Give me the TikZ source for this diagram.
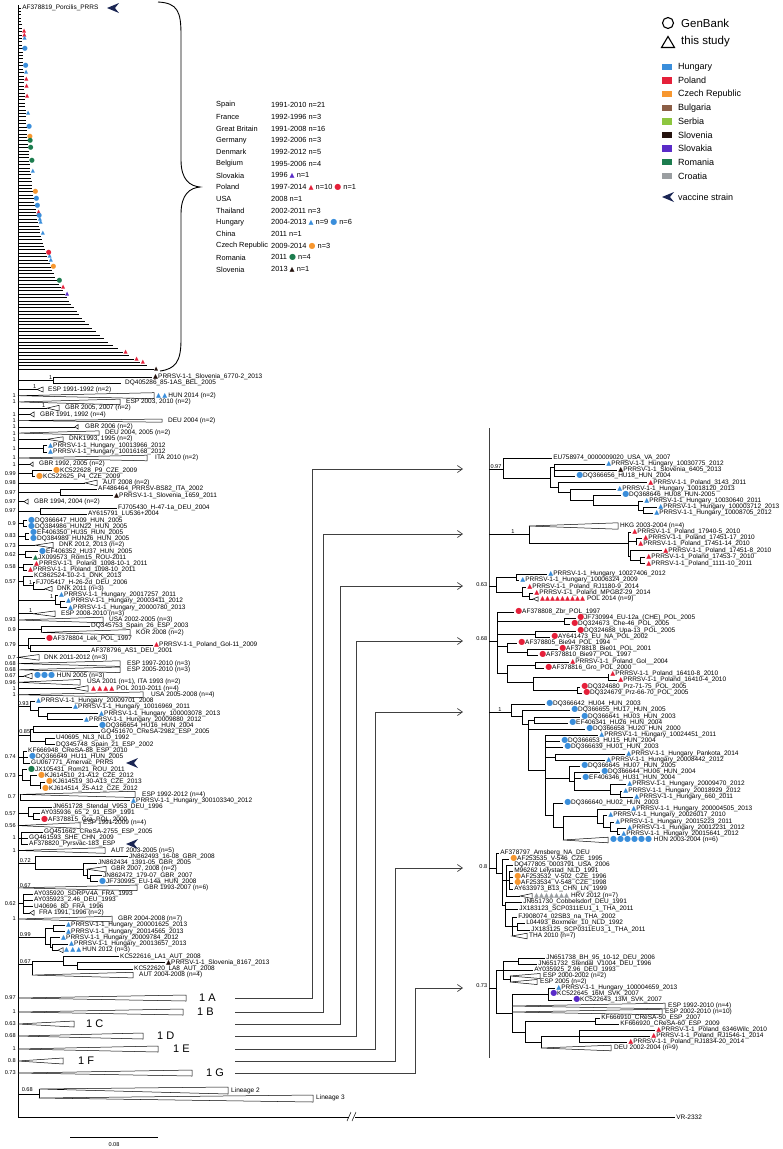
\documentclass[tikz,border=0pt]{standalone}
\usepackage{fontspec}
\setmainfont{Liberation Sans}
\newfontfamily\symfont{DejaVu Sans}
\usetikzlibrary{arrows.meta}

\definecolor{hun}{HTML}{3A8EDB}
\definecolor{pol}{HTML}{E5203A}
\definecolor{cze}{HTML}{F7972F}
\definecolor{bul}{HTML}{8B5E46}
\definecolor{srb}{HTML}{8DC63F}
\definecolor{slo}{HTML}{24120E}
\definecolor{svk}{HTML}{5A2BC8}
\definecolor{rou}{HTML}{1C7C4E}
\definecolor{hrv}{HTML}{9A9EA1}
\definecolor{vac}{HTML}{1B2654}

% markers, collapsed clades, bootstrap left of the root
\newcommand{\mtri}[1]{{\symfont\fontsize{6.5}{7}\selectfont\textcolor{#1}{▲}}}
\newcommand{\mdot}[1]{{\symfont\fontsize{8}{8}\selectfont\textcolor{#1}{●}}}
\newcommand{\stri}[1]{{\symfont\fontsize{5.4}{6}\selectfont\textcolor{#1}{▲}}}
\newcommand{\sdot}[1]{{\symfont\fontsize{6.6}{7}\selectfont\textcolor{#1}{●}}}
\newcommand{\clps}[4]{\draw[clade] (#1,#3) -- (#2,{#3-#4}) -- (#2,{#3+#4}) -- cycle;}
\newcommand{\bsl}[3]{\node[bs,anchor=east] (#1) at (16.5,#2) {#3};}

\tikzset{
  br/.style={line width=0.5pt},
  clade/.style={line width=0.5pt, fill=white},
  lf/.style={anchor=west, inner sep=1pt, font=\fontsize{6.5}{7}\selectfont},
  bs/.style={inner sep=0.6pt, font=\fontsize{5.6}{6}\selectfont},
  mk/.style={inner sep=0pt},
  big/.style={anchor=west, inner sep=0pt, font=\fontsize{11}{12}\selectfont},
  lg/.style={anchor=west, inner sep=0pt, font=\fontsize{7.4}{8}\selectfont},
  lg2/.style={anchor=west, inner sep=0pt, font=\fontsize{11.5}{12}\selectfont},
  lg3/.style={anchor=west, inner sep=0pt, font=\fontsize{9}{10}\selectfont},
  key/.style={rectangle, inner sep=0pt, minimum width=9.5pt, minimum height=6.5pt},
  conn/.style={line width=0.7pt, draw=black!75, -{Straight Barb[length=5pt,width=7pt]}},
  vacc/.pic={\fill[vac,x=1pt,y=1pt] (-6,0) -- (6,5) -- (2,0) -- (6,-5) -- cycle;}
}

\begin{document}
\catcode`\_=12
\begin{tikzpicture}[x=1pt,y=-1pt]
\useasboundingbox (0,0) rectangle (783,1149);

% root line and outgroup
\draw[br] (18,5) -- (18,1117) -- (675,1117) node[lf] (vr) {VR-2332};
\fill[white] (349,1114) rectangle (355,1120);
\draw[br] (347,1121) -- (351,1112) (352,1121) -- (356,1112);

% scale bar
\draw[br] (70,1137) -- (158,1137);
\node[bs] (sc) at (114,1145) {0.08};

% top vaccine strain
\draw[br] (18,8) -- (21,8) node[lf] (top) {AF378819_Porcilis_PRRS};
\pic at (113,8) {vacc};

% unresolved comb
\foreach \i in {0,...,105}
  \draw[br] (18,{11+3.41*\i}) -- ({21+12*\i/105+0.3*(exp(6*\i/105)-1)},{11+3.41*\i});
\foreach \i/\cl in {6/pol,7/pol,8/hun,18/hun,20/pol,22/pol,25/pol,30/hun,47/hun,59/pol,61/hun,62/hun,65/hun,72/hun,73/hun,81/pol,83/svk,100/pol,102/pol,103/pol,105/slo}
  \node[mk] (ct\i) at ({23.5+12*\i/105+0.3*(exp(6*\i/105)-1)},{11+3.41*\i}) {\stri{\cl}};
\foreach \i/\cl in {11/hun,16/hun,34/hun,37/cze,38/rou,40/rou,44/rou,53/cze,55/hun,57/hun,60/hun,71/pol,75/cze,79/rou}
  \node[mk] (cd\i) at ({23.5+12*\i/105+0.3*(exp(6*\i/105)-1)},{11+3.41*\i}) {\sdot{\cl}};

% brace
\draw[line width=0.9pt] (158,2) .. controls (178,3) and (181,12) .. (181,35) -- (181,160)
  .. controls (181,180) and (190,186) .. (200,187) .. controls (190,188) and (181,194) .. (181,214)
  -- (181,340) .. controls (181,362) and (175,369) .. (160,371);

% summary of the comb
\foreach \j/\cn/\yr in {0/Spain/1991-2010 n=21, 1/France/1992-1996 n=3, 2/Great Britain/1991-2008 n=16,
  3/Germany/1992-2006 n=3, 4/Denmark/1992-2012 n=5, 5/Belgium/1995-2006 n=4,
  6/Slovakia/1996 \mtri{svk} n=1, 7/Poland/1997-2014 \mtri{pol} n=10 \mdot{pol} n=1,
  8/USA/2008 n=1, 9/Thailand/2002-2011 n=3, 10/Hungary/2004-2013 \mtri{hun} n=9 \mdot{hun} n=6,
  11/China/2011 n=1, 12/Czech Republic/2009-2014 \mdot{cze} n=3, 13/Romania/2011 \mdot{rou} n=4,
  14/Slovenia/2013 \mtri{slo} n=1}
{
  \node[lg] (cn\j) at (216,{105+11.75*\j}) {\cn};
  \node[lg] (yr\j) at (271,{105+11.75*\j}) {\yr};
}

% legend
\draw[line width=1.1pt] (668,23) circle (5.5);
\node[lg2] (gb) at (681,23) {GenBank};
\draw[line width=1.1pt] (661.5,47.5) -- (674.5,47.5) -- (668,36.5) -- cycle;
\node[lg2] (ts) at (681,42) {this study};
\foreach \j/\cl/\t in {0/hun/Hungary,1/pol/Poland,2/cze/Czech Republic,3/bul/Bulgaria,4/srb/Serbia,5/slo/Slovenia,6/svk/Slovakia,7/rou/Romania,8/hrv/Croatia}
{
  \node[key, fill=\cl] (key\j) at (667,{67+13.6*\j}) {};
  \node[lg3] (kl\j) at (678,{67+13.6*\j}) {\t};
}
\pic at (668,197) {vacc};
\node[lg3] (vs) at (678,197) {vaccine strain};

% resolved part of the tree, one unit per row
\begin{scope}[shift={(0,370.77)}, y=-6.23pt]
% 1-2
\draw[br] (18,1.5) -- (53,1.5) (152,1) -| (53,2) -- (121,2);
\node[bs,anchor=south east] (k1) at (53,1.5) {1};
\node[lf] (r1) at (152,1) {\mtri{slo}PRRSV-1-1_Slovenia_6770-2_2013};
\node[lf] (r2) at (124,2) {DQ405286_85-1AS_BEL_2005};
% 3
\draw[br] (18,3) -- (37,3); \clps{37}{43}{3}{0.4}
\node[bs,anchor=south east] (k3) at (37,3) {1};
\node[lf] (r3) at (47,3) {ESP 1991-1992 (n=2)};
% 4
\clps{18}{154}{4}{0.48} \bsl{k4}{4}{1}
\node[lf] (r4) at (155,4) {\mtri{hun}\,\mtri{hun}\,HUN 2014 (n=2)};
% 5
\clps{18}{120}{5}{0.45} \bsl{k5}{5}{1}
\node[lf] (r5) at (125,5) {ESP 2003, 2010 (n=2)};
% 6
\draw[br] (18,6) -- (47,6); \clps{47}{59}{6}{0.45}
\node[bs,anchor=south east] (k6) at (46,6) {1};
\node[lf] (r6) at (64,6) {GBR 2005, 2007 (n=2)};
% 7
\draw[br] (18,7) -- (30,7); \clps{30}{34}{7}{0.4} \bsl{k7}{7}{1}
\node[lf] (r7) at (39,7) {GBR 1991, 1992 (n=4)};
% 8
\clps{18}{162}{8}{0.25} \bsl{k8}{8}{1}
\node[lf] (r8) at (167,8) {DEU 2004 (n=2)};
% 9
\draw[br] (18,9) -- (75,9); \clps{75}{78}{9}{0.35} \bsl{k9}{9}{1}
\node[lf] (r9) at (84,9) {GBR 2006 (n=2)};
% 10
\clps{18}{99}{10}{0.35} \bsl{k10}{10}{1}
\node[lf] (r10) at (104,10) {DEU 2004, 2005 (n=2)};
% 11
\draw[br] (18,11) -- (47,11); \clps{47}{63}{11}{0.4} \bsl{k11}{11}{1}
\node[lf] (r11) at (68,11) {DNK1993, 1995 (n=2)};
% 12-13
\draw[br] (18,12.5) -- (43,12.5) (47,12) -| (43,13) -- (47,13); \bsl{k12}{12.5}{1}
\node[lf] (r12) at (47,12) {\mtri{hun}PRRSV-1-1_Hungary_10013966_2012};
\node[lf] (r13) at (47,13) {\mtri{hun}PRRSV-1-1_Hungary_10016168_2012};
% 14
\clps{18}{147}{14}{0.45} \bsl{k14}{14}{1}
\node[lf] (r14) at (154,14) {ITA 2010 (n=2)};
% 15
\draw[br] (18,15) -- (30,15); \clps{30}{33}{15}{0.35} \bsl{k15}{15}{1}
\node[lf] (r15) at (38,15) {GBR 1992, 2005 (n=2)};
% 16-17
\draw[br] (18,16.5) -- (32,16.5) (52,16) -| (32,17) -- (35,17); \bsl{k16}{16.5}{0.99}
\node[lf] (r16) at (52,16) {\mdot{cze}KC522628_P9_CZE_2009};
\node[lf] (r17) at (35,17) {\mdot{cze}KC522625_P4_CZE_2009};
% 18
\draw[br] (18,18) -- (85,18); \clps{85}{97}{18}{0.45} \bsl{k18}{18}{0.98}
\node[lf] (r18) at (102,18) {AUT 2008 (n=2)};
% 19-20
\draw[br] (18,19.5) -- (60,19.5) (97,19) -| (60,20) -- (113,20); \bsl{k19}{19.5}{0.97}
\node[lf] (r19) at (97,19) {AF486464_PRRSV-BS82_ITA_2002};
\node[lf] (r20) at (113,20) {\mtri{slo}PRRSV-1-1_Slovenia_1659_2011};
% 21
\draw[br] (18,21) -- (24,21); \clps{24}{28}{21}{0.4} \bsl{k21}{21}{0.97}
\node[lf] (r21) at (33,21) {GBR 1994, 2004 (n=2)};
% 22-23
\draw[br] (18,22.5) -- (40,22.5) (117,22) -| (40,23) -- (87,23); \bsl{k22}{22.5}{0.97}
\node[lf] (r22) at (117,22) {FJ705430_H-47-1a_DEU_2004};
\node[lf] (r23) at (87,23) {AY615791_LU536+2004};
% 24-25
\draw[br] (18,24.5) -- (23,24.5) (27,24) -| (23,25) -- (27,25); \bsl{k24}{24.5}{0.9}
\node[lf] (r24) at (27,24) {\mdot{hun}DQ366647_HU09_HUN_2005};
\node[lf] (r25) at (27,25) {\mdot{hun}DQ384986_HUN22_HUN_2005};
% 26-27
\draw[br] (18,26.5) -- (25,26.5) (29,26) -| (25,27) -- (29,27); \bsl{k26}{26.5}{0.83}
\node[lf] (r26) at (29,26) {\mdot{hun}EF406350_HU35_HUN_2005};
\node[lf] (r27) at (29,27) {\mdot{hun}DQ384989_HUN26_HUN_2005};
% 28
\draw[br] (18,28) -- (35,28); \clps{35}{53}{28}{0.45} \bsl{k28}{28}{0.73}
\node[lf] (r28) at (58,28) {DNK 2012, 2013 (n=2)};
% 29-30
\draw[br] (18,29.5) -- (25,29.5) (38,29) -| (25,30) -- (32,30); \bsl{k29}{29.5}{0.62}
\node[lf] (r29) at (38,29) {\mdot{hun}EF406352_HU37_HUN_2005};
\node[lf] (r30) at (32,30) {\mtri{rou}JX099573_Rom15_ROU-2011};
% 31-32
\draw[br] (18,31.5) -- (23,31.5) (33,31) -| (23,32) -- (27,32); \bsl{k31}{31.5}{0.58}
\node[lf] (r31) at (33,31) {\mtri{pol}PRRSV-1-1_Poland_1098-10-1_2011};
\node[lf] (r32) at (27,32) {\mtri{pol}PRRSV-1-1_Poland_1098-10_2011};
% 33-35
\draw[br] (18,33.8) -- (23,33.8) (33,33) -| (23,34.5) -- (33,34.5) (35,34) -| (33,35) -- (45,35);
\clps{45}{52}{35}{0.4} \bsl{k33}{33.8}{0.57}
\node[bs,anchor=south east] (k34) at (33,34.5) {1};
\node[lf] (r33) at (33,33) {KC862524-10-2-1_DNK_2013};
\node[lf] (r34) at (35,34) {FJ705417_H-26-2d_DEU_2006};
\node[lf] (r35) at (56,35) {DNK 2011 (n=3)};
% 36-38
\draw[br] (18,36.8) -- (55,36.8) (58,36) -| (55,37.5) -- (60,37.5) (65,37) -| (60,38) -- (67,38);
\node[bs,anchor=east] (k36) at (54,36.3) {1};
\node[lf] (r36) at (58,36) {\mtri{hun}PRRSV-1-1_Hungary_20017257_2011};
\node[lf] (r37) at (65,37) {\mtri{hun}PRRSV-1-1_Hungary_20003411_2012};
\node[lf] (r38) at (67,38) {\mtri{hun}PRRSV-1-1_Hungary_20000780_2013};
% 39
\draw[br] (18,39) -- (33,39); \clps{33}{55}{39}{0.45}
\node[bs,anchor=south east] (k39) at (33,39) {1};
\node[lf] (r39) at (60,39) {ESP 2008-2010 (n=3)};
% 40
\clps{18}{103}{40}{0.45} \bsl{k40}{40}{0.93}
\node[lf] (r40) at (108,40) {USA 2002-2005 (n=3)};
% 41-42
\draw[br] (18,41.5) -- (41,41.5) (90,41) -| (41,42); \clps{41}{130}{42}{0.45} \bsl{k41}{41.5}{0.9}
\node[lf] (r41) at (90,41) {DQ345753_Spain_26_ESP_2003};
\node[lf] (r42) at (135,42) {KOR 2008 (n=2)};
% 43-45
\draw[br] (18,44) -- (28,44) (45,43) -| (28,44.5) -- (30,44.5) (153,44) -| (30,45) -- (90,45); \bsl{k43}{44}{0.79}
\node[lf] (r43) at (45,43) {\mdot{pol}AF378804_Lek_POL_1997};
\node[lf] (r44) at (153,44) {\mtri{pol}PRRSV-1-1_Poland_Gol-11_2009};
\node[lf] (r45) at (90,45) {AF378796_AS1_DEU_2001};
% 46-48
\clps{18}{39}{46}{0.45} \bsl{k46}{46}{0.7}
\node[lf] (r46) at (43,46) {DNK 2011-2012 (n=3)};
\clps{18}{120}{47}{0.45} \bsl{k47}{47}{0.68}
\node[lf] (r47) at (126,47) {ESP 1997-2010 (n=3)};
\clps{18}{120}{48}{0.45} \bsl{k48}{48}{0.68}
\node[lf] (r48) at (126,48) {ESP 2005-2010 (n=3)};
% 49
\draw[br] (18,49) -- (24,49); \clps{24}{32}{49}{0.45} \bsl{k49}{49}{0.67}
\node[lf] (r49) at (33,49) {\mdot{hun}\mdot{hun}\mdot{hun} HUN 2005 (n=3)};
% 50
\clps{18}{80}{50}{0.45} \bsl{k50}{50}{0.96}
\node[lf] (r50) at (86,50) {USA 2001 (n=1), ITA 1993 (n=2)};
% 51
\draw[br] (18,51) -- (73,51); \clps{73}{88}{51}{0.45} \bsl{k51}{51}{1}
\node[lf] (r51) at (90,51) {\mtri{pol}\,\mtri{pol}\,\mtri{pol}\,\mtri{pol} POL 2010-2011 (n=4)};
% 52
\clps{18}{143}{52}{0.45} \bsl{k52}{52}{1}
\node[lf] (r52) at (150,52) {USA 2005-2008 (n=4)};
% 53-56
\draw[br] (18,53.8) -- (30,53.8) (35,53) -| (30,54.5) -- (38,54.5) (72,54) -| (38,55.5) -- (47,55.5) (98,55) -| (47,56) -- (83,56);
\node[bs,anchor=south west] (k53) at (17,53.8) {0.93};
\node[lf] (r53) at (35,53) {\mtri{hun}PRRSV-1-1_Hungary_20009701_2008};
\node[lf] (r54) at (72,54) {\mtri{hun}PRRSV-1-1_Hungary_10016969_2011};
\node[lf] (r55) at (98,55) {\mtri{hun}PRRSV-1-1_Hungary_100003078_2013};
\node[lf] (r56) at (83,56) {\mtri{hun}PRRSV-1-1_Hungary_20009880_2012};
% 57-60
\draw[br] (18,58.5) -- (30,58.5) (33,57.5) -| (30,59.5) -- (45,59.5) (98,57) -| (33,58) -- (100,58) (55,59) -| (45,60) -- (55,60);
\node[bs,anchor=south west] (k57) at (18.5,58.4) {0.85};
\node[lf] (r57) at (98,57) {\mdot{hun}DQ366654_HU16_HUN_2004};
\node[lf] (r58) at (100,58) {GQ451670_CReSA-2982_ESP_2005};
\node[lf] (r59) at (55,59) {U40695_NL3_NLD_1992};
\node[lf] (r60) at (55,60) {DQ345748_Spain_21_ESP_2002};
% 61-63
\draw[br] (18,62) -- (28,62) (27,61) -| (23,63) -- (30,63); \bsl{k61}{62}{0.74}
\node[lf] (r61) at (27,61) {KF666948_CReSA-88_ESP_2010};
\node[lf] (r62) at (28,62) {\mdot{hun}DQ366649_HU11_HUN_2005};
\node[lf] (r63) at (30,63) {GU067771_Amervac_PRRS};
% 64-67
\draw[br] (18,65) -- (22,65) (27,64) -| (22,65.8) -- (30,65.8) (37,65) -| (30,66.5) -- (40,66.5) (45,66) -| (40,67) -- (41,67);
\bsl{k64}{65}{0.73}
\node[lf] (r64) at (27,64) {\mdot{rou}JX105431_Rom21_ROU_2011};
\node[lf] (r65) at (37,65) {\mdot{cze}KJ614510_21-A12_CZE_2012};
\node[lf] (r66) at (45,66) {\mdot{cze}KJ614519_30-A13_CZE_2013};
\node[lf] (r67) at (41,67) {\mdot{cze}KJ614514_25-A12_CZE_2012};
% 68-69
\draw[br] (20,68) -- (20,69) -- (130,69); \clps{20}{135}{68}{0.5} \bsl{k68}{68.3}{0.7}
\node[lf] (r68) at (141,68) {ESP 1992-2012 (n=4)};
\node[lf] (r69) at (130,69) {\mtri{hun}PRRSV-1-1_Hungary_300103340_2012};
% 70-72
\draw[br] (18,71) -- (28,71) (52,70) -| (28,71.5) -- (33,71.5) (40,71) -| (33,72) -- (40,72); \bsl{k70}{71}{0.57}
\node[lf] (r70) at (52,70) {JN651728_Stendal_V953_DEU_1996};
\node[lf] (r71) at (40,71) {AY035936_65_2_91_ESP_1991};
\node[lf] (r72) at (40,72) {\mdot{pol}AF378815_Gra_POL_2000};
% 73
\clps{18}{80}{73}{0.45} \bsl{k73}{73}{0.56}
\node[lf] (r73) at (82,72.6) {ESP 1991-2009 (n=4)};
% 74-76
\draw[br] (18,75) -- (28,75) (43,74) -| (21,76) -- (28,76); \bsl{k74}{75}{1}
\node[lf] (r74) at (43,74) {GQ451662_CReSA-2755_ESP_2005};
\node[lf] (r75) at (28,75) {GQ461593_SHE_CHN_2009};
\node[lf] (r76) at (28,76) {AF378820_Pyrsvac-183_ESP};
% 77
\clps{18}{105}{77}{0.45} \bsl{k77}{77}{1}
\node[lf] (r77) at (110,77) {AUT 2003-2005 (n=5)};
% 78-82
\draw[br] (18,79) -- (35,79) (128,78) -| (35,80) -- (83,80) (97,79) -| (83,81) -- (87,81)
  (87,80) -- (87,81.5) -- (90,81.5) (102,81) -| (90,82) -- (98,82);
\clps{87}{106}{80}{0.45}
\node[bs,anchor=south west] (k78) at (19,79) {0.72};
\node[lf] (r78) at (128,78) {JN862493_16-08_GBR_2008};
\node[lf] (r79) at (97,79) {JN862434_1391-05_GBR_2005};
\node[lf] (r80) at (110,80) {GBR 2007, 2008 (n=2)};
\node[lf] (r81) at (102,81) {JN862472_179-07_GBR_2007};
\node[lf] (r82) at (98,82) {\mdot{hun}JF730995_EU-14a_HUN_2008};
% 83
\clps{18}{137}{83}{0.45}
\node[bs,anchor=south west] (k83) at (19,83) {0.67};
\node[lf] (r83) at (143,83) {GBR 1993-2007 (n=6)};
% 84-87
\draw[br] (18,85.5) -- (23,85.5) (33,84) -| (23,87) -- (30,87) (23,85) -- (33,85) (23,86) -- (33,86);
\clps{30}{34}{87}{0.4} \bsl{k84}{85.6}{0.62}
\node[lf] (r84) at (33,84) {AY035920_SDRPV4A_FRA_1993};
\node[lf] (r85) at (33,85) {AY035923_2.46_DEU_1993};
\node[lf] (r86) at (33,86) {U40696_8D_FRA_1996};
\node[lf] (r87) at (38,87) {FRA 1991, 1996 (n=2)};
% 88
\clps{18}{112}{88}{0.45} \bsl{k88}{88}{1}
\node[lf] (r88) at (117,88) {GBR 2004-2008 (n=7)};
% 89-93
\draw[br] (18,91) -- (45,91) (65,89) -| (53,90) -- (65,90) (53,89.5) -| (45,92) -- (50,92)
  (60,91) -| (50,92.5) -- (52,92.5) (68,92) -| (52,93) -- (58,93);
\clps{58}{63}{93}{0.4}
\node[bs,anchor=south west] (k89) at (19,91) {0.99};
\node[lf] (r89) at (65,89) {\mtri{hun}PRRSV-1-1_Hungary_200001625_2013};
\node[lf] (r90) at (65,90) {\mtri{hun}PRRSV-1-1_Hungary_20014565_2013};
\node[lf] (r91) at (60,91) {\mtri{hun}PRRSV-1-1_Hungary_20009784_2012};
\node[lf] (r92) at (68,92) {\mtri{hun}PRRSV-1-1_Hungary_20013657_2013};
\node[lf] (r93) at (63,93) {\mtri{hun}\,\mtri{hun}\,\mtri{hun}\,HUN 2012 (n=3)};
% 94-97
\draw[br] (18,95.3) -- (32,95.3) (63,94.8) -| (32,97) (119,94) -| (63,95.5) -- (77,95.5) (165,95) -| (77,96) -- (133,96);
\clps{32}{133}{97}{0.45}
\node[bs,anchor=south west] (k94) at (19,95.3) {0.67};
\node[lf] (r94) at (119,94) {KC522616_LA1_AUT_2008};
\node[lf] (r95) at (165,95) {\mtri{slo}PRRSV-1-1_Slovenia_8167_2013};
\node[lf] (r96) at (133,96) {KC522620_LA8_AUT_2008};
\node[lf] (r97) at (138,97) {AUT 2004-2008 (n=4)};
\end{scope}

% vaccine strains in the tree
\pic at (132,763) {vacc};
\pic at (132,844) {vacc};

% collapsed clusters 1A-1G
\clps{18}{186}{998}{3} \bsl{kA}{998}{0.97}
\node[big] (n1A) at (199,998) {1 A};
\clps{18}{183}{1012}{3} \bsl{kB}{1012}{1}
\node[big] (n1B) at (197,1012) {1 B};
\clps{18}{74}{1024}{3} \bsl{kC}{1024}{0.63}
\node[big] (n1C) at (86,1024) {1 C};
\clps{18}{143}{1036}{3} \bsl{kD}{1036}{0.68}
\node[big] (n1D) at (157,1036) {1 D};
\clps{18}{158}{1049}{3} \bsl{kE}{1049}{1}
\node[big] (n1E) at (173,1049) {1 E};
\clps{18}{63}{1061}{3} \bsl{kF}{1061}{0.8}
\node[big] (n1F) at (78,1061) {1 F};
\clps{18}{192}{1073}{3} \bsl{kG}{1073}{0.73}
\node[big] (n1G) at (206,1073) {1 G};

% lineages 2 and 3
\draw[br] (18,1094) -- (39,1094) (39,1089) -- (39,1098);
\draw[clade] (39,1089) -- (228,1087) -- (228,1094) -- cycle;
\draw[clade] (39,1098) -- (313,1095) -- (313,1102) -- cycle;
\node[bs,anchor=south west] (kL) at (21,1092.5) {0.68};
\node[lf] (l2) at (230,1091) {Lineage 2};
\node[lf] (l3) at (315,1098) {Lineage 3};

% arrows to the expanded clusters
\coordinate (cs) at (235,0);
\coordinate (tA) at (463,469);
\coordinate (tB) at (463,534);
\coordinate (tC) at (463,586);
\coordinate (tD) at (463,641);
\coordinate (tE) at (463,712);
\coordinate (tF) at (463,868);
\coordinate (tG) at (463,988);
\draw[conn] (n1A -| cs) -| ([xshift=-151pt]tA) -- (tA);
\draw[conn] (n1B -| cs) -| ([xshift=-140pt]tB) -- (tB);
\draw[conn] (n1C -| cs) -| ([xshift=-123pt]tC) -- (tC);
\draw[conn] (n1D -| cs) -| ([xshift=-107pt]tD) -- (tD);
\draw[conn] (n1E -| cs) -| ([xshift=-88pt]tE) -- (tE);
\draw[conn] (n1F -| cs) -| ([xshift=-68pt]tF) -- (tF);
\draw[conn] (n1G -| cs) -| ([xshift=-48pt]tG) -- (tG);

% expanded clusters
\draw[line width=0.6pt, black!75] (489,428) -- (489,1058);

% 1A
\draw[br] (489,469) -- (503,469) (503,458) -- (503,478) (503,478) -- (550,478) (550,467) -- (550,487)
  (550,467) -- (554,467) (554,464) -- (554,476) (550,487) -- (558,487) (558,482.7) -- (558,492)
  (558,492) -- (570,492) (570,489) -- (570,500) (570,500) -- (593,500) (593,495) -- (593,505)
  (593,505) -- (638,505) (638,501) -- (638,510) (638,510) -- (643,510) (643,507) -- (643,513);
\node[bs,anchor=south] (bA) at (496,469) {0.97};
\draw[br] (503,458) -- (552,458) node[lf] (a1) {EU758974_0000009020_USA_VA_2007};
\draw[br] (554,464) -- (605,464) node[lf] (a2) {\mtri{hun}PRRSV-1-1_Hungary_10030775_2012};
\draw[br] (554,470) -- (617,470) node[lf] (a3) {\mtri{slo}PRRSV-1-1_Slovenia_6405_2013};
\draw[br] (554,476) -- (575,476) node[lf] (a4) {\mdot{hun}DQ366656_HU18_HUN_2004};
\draw[br] (558,482.7) -- (647,482.7) node[lf] (a5) {\mtri{pol}PRRSV-1-1_Poland_3143_2011};
\draw[br] (570,489) -- (616,489) node[lf] (a6) {\mtri{hun}PRRSV-1-1_Hungary_10018120_2013};
\draw[br] (593,495) -- (621,495) node[lf] (a7) {\mdot{hun}DQ368646_HU08_HUN-2005};
\draw[br] (638,501) -- (643,501) node[lf] (a8) {\mtri{hun}PRRSV-1-1_Hungary_10030640_2011};
\draw[br] (643,507) -- (657,507) node[lf] (a9) {\mtri{hun}PRRSV-1-1_Hungary_100003712_2013};
\draw[br] (643,513) -- (653,513) node[lf] (a10) {\mtri{hun}PRRSV-1-1_Hungary_10008705_2012};

% 1B
\draw[br] (489,534) -- (529,534) (529,526) -- (529,543) (529,543) -- (628,543) (628,532) -- (628,556)
  (628,541) -- (636,541) (636,538) -- (636,544) (628,556) -- (630,556) (630,550.5) -- (630,560)
  (630,560) -- (640,560) (640,557) -- (640,563.5);
\clps{529}{618}{526}{3.2}
\node[bs,anchor=south] (bB) at (513,534) {1};
\node[lf] (b1) at (619,526) {HKG 2003-2004 (n=4)};
\draw[br] (628,532) -- (631,532) node[lf] (b2) {\mtri{pol}PRRSV-1-1_Poland_17940-5_2010};
\draw[br] (636,538) -- (642,538) node[lf] (b3) {\mtri{pol}PRRSV-1-1_Poland_17451-17_2010};
\draw[br] (636,544) -- (637,544) node[lf] (b4) {\mtri{pol}PRRSV-1-1_Poland_17451-14_2010};
\draw[br] (630,550.5) -- (662,550.5) node[lf] (b5) {\mtri{pol}PRRSV-1-1_Poland_17451-8_2010};
\draw[br] (640,557) -- (645,557) node[lf] (b6) {\mtri{pol}PRRSV-1-1_Poland_17453-7_2010};
\draw[br] (640,563.5) -- (645,563.5) node[lf] (b7) {\mtri{pol}PRRSV-1-1_Poland_1111-10_2011};

% 1C
\draw[br] (489,586) -- (496,586) (496,577) -- (496,592) (496,577) -- (516,577) (516,574) -- (516,580)
  (496,592) -- (522,592) (522,587) -- (522,596) (522,596) -- (529,596) (529,593) -- (529,599) (529,599) -- (533,599);
\clps{533}{538}{599}{2.2}
\node[bs,anchor=east] (bC) at (488,585) {0.63};
\draw[br] (516,574) -- (547,574) node[lf] (c1) {\mtri{hun}PRRSV-1-1_Hungary_10027406_2012};
\draw[br] (516,580) -- (519,580) node[lf] (c2) {\mtri{hun}PRRSV-1-1_Hungary_10006324_2009};
\draw[br] (522,587) -- (526,587) node[lf] (c3) {\mtri{pol}PRRSV-1-1_Poland_RJ1180-9_2014};
\draw[br] (529,593) -- (533,593) node[lf] (c4) {\mtri{pol}PRRSV-1-1_Poland_MPGB2-29_2014};
\node[lf] (c5) at (539,599) {\mtri{pol}\mtri{pol}\mtri{pol}\mtri{pol}\mtri{pol}\mtri{pol}\mtri{pol}\mtri{pol}\mtri{pol} POL 2014 (n=9)};

% 1D
\draw[br] (489,641) -- (497,641) (497,612) -- (497,673)
  (497,621) -- (564,621) (564,618) -- (564,624)
  (497,634) -- (535,634) (535,631) -- (535,637)
  (497,646) -- (507,646) (507,643) -- (507,652) (507,652) -- (527,652) (527,649) -- (527,655)
  (497,673) -- (507,673) (507,665) -- (507,682) (507,665) -- (535,665) (535,662) -- (535,668)
  (507,682) -- (533,682) (533,677) -- (533,690) (533,677) -- (608,677) (608,674) -- (608,680)
  (533,690) -- (577,690) (577,687) -- (577,693);
\node[bs,anchor=east] (bD) at (488,639) {0.68};
\draw[br] (497,612) -- (514,612) node[lf] (d1) {\mdot{pol}AF378808_Zbr_POL_1997};
\draw[br] (564,618) -- (576,618) node[lf] (d2) {\mdot{pol}JF730994_EU-12a_(CHE)_POL_2005};
\draw[br] (564,624) -- (570,624) node[lf] (d3) {\mdot{pol}DQ324673_Che-46_POL_2005};
\draw[br] (535,631) -- (576,631) node[lf] (d4) {\mdot{pol}DQ324688_Upa-13_POL_2005};
\draw[br] (535,637) -- (550,637) node[lf] (d5) {\mdot{pol}AY641473_EU_NA_POL_2002};
\draw[br] (507,643) -- (517,643) node[lf] (d6) {\mdot{pol}AF378805_Bie94_POL_1994};
\draw[br] (527,649) -- (558,649) node[lf] (d7) {\mdot{pol}AF378818_Bie01_POL_2001};
\draw[br] (527,655) -- (538,655) node[lf] (d8) {\mdot{pol}AF378810_Bie97_POL_1997};
\draw[br] (535,662) -- (569,662) node[lf] (d9) {\mtri{pol}PRRSV-1-1_Poland_Gol__2004};
\draw[br] (535,668) -- (544,668) node[lf] (d10) {\mdot{pol}AF378816_Gro_POL_2000};
\draw[br] (608,674) -- (609,674) node[lf] (d11) {\mtri{pol}PRRSV-1-1_Poland_16410-8_2010};
\draw[br] (608,680) -- (617,680) node[lf] (d12) {\mtri{pol}PRRSV-1-1_Poland_16410-4_2010};
\draw[br] (577,687) -- (580,687) node[lf] (d13) {\mdot{pol}DQ324680_Prz-71-75_POL_2005};
\draw[br] (577,693) -- (582,693) node[lf] (d14) {\mdot{pol}DQ324679_Prz-66-70_POL_2005};

% 1E
\draw[br] (489,712) -- (511,712) (511,704) -- (511,716) (511,716) -- (522,716) (522,710) -- (522,724)
  (522,724) -- (528,724) (528,720) -- (528,770) (528,720) -- (534,720) (534,717) -- (534,723)
  (528,770) -- (545,770) (545,735) -- (545,815) (545,757) -- (555,757) (555,754) -- (555,760)
  (545,778) -- (569,778) (569,766) -- (569,781) (569,781) -- (574,781) (574,772) -- (574,790)
  (574,790) -- (610,790) (610,784) -- (610,794) (610,794) -- (620,794) (620,791) -- (620,797)
  (545,815) -- (553,815) (553,803) -- (553,827) (553,827) -- (563,827) (563,816) -- (563,840)
  (563,816) -- (597,816) (597,809) -- (597,823) (597,823) -- (603,823) (603,815) -- (603,827)
  (603,827) -- (610,827) (610,822) -- (610,831) (610,831) -- (617,831) (617,828) -- (617,834);
\clps{563}{608}{840}{2.8}
\node[bs,anchor=south] (bE) at (500,712) {1};
\draw[br] (511,704) -- (545,704) node[lf] (e1) {\mdot{hun}DQ366642_HU04_HUN_2003};
\draw[br] (522,710) -- (570,710) node[lf] (e2) {\mdot{hun}DQ366655_HU17_HUN_2005};
\draw[br] (534,717) -- (580,717) node[lf] (e3) {\mdot{hun}DQ366641_HU03_HUN_2003};
\draw[br] (534,723) -- (568,723) node[lf] (e4) {\mdot{hun}EF406341_HU26_HUN_2004};
\draw[br] (528,729) -- (585,729) node[lf] (e5) {\mdot{hun}DQ366658_HU20_HUN_2000};
\draw[br] (545,735) -- (598,735) node[lf] (e6) {\mtri{hun}PRRSV-1-1_Hungary_10024451_2011};
\draw[br] (545,741) -- (560,741) node[lf] (e7) {\mdot{hun}DQ366653_HU15_HUN_2004};
\draw[br] (545,747) -- (563,747) node[lf] (e8) {\mdot{hun}DQ366639_HU01_HUN_2003};
\draw[br] (555,754) -- (625,754) node[lf] (e9) {\mtri{hun}PRRSV-1-1_Hungary_Pankota_2014};
\draw[br] (555,760) -- (605,760) node[lf] (e10) {\mtri{hun}PRRSV-1-1_Hungary_20008442_2012};
\draw[br] (569,766) -- (580,766) node[lf] (e11) {\mdot{hun}DQ366645_HU07_HUN_2005};
\draw[br] (574,772) -- (600,772) node[lf] (e12) {\mdot{hun}DQ366644_HU06_HUN_2004};
\draw[br] (574,778) -- (581,778) node[lf] (e13) {\mdot{hun}EF406346_HU31_HUN_2004};
\draw[br] (610,784) -- (626,784) node[lf] (e14) {\mtri{hun}PRRSV-1-1_Hungary_20009470_2012};
\draw[br] (620,791) -- (622,791) node[lf] (e15) {\mtri{hun}PRRSV-1-1_Hungary_20018929_2012};
\draw[br] (620,797) -- (633,797) node[lf] (e16) {\mtri{hun}PRRSV-1-1_Hungary_660_2011};
\draw[br] (553,803) -- (563,803) node[lf] (e17) {\mdot{hun}DQ366640_HU02_HUN_2003};
\draw[br] (597,809) -- (630,809) node[lf] (e18) {\mtri{hun}PRRSV-1-1_Hungary_200004505_2013};
\draw[br] (603,815) -- (607,815) node[lf] (e19) {\mtri{hun}PRRSV-1-1_Hungary_20026017_2010};
\draw[br] (610,822) -- (614,822) node[lf] (e20) {\mtri{hun}PRRSV-1-1_Hungary_20015223_2011};
\draw[br] (617,828) -- (626,828) node[lf] (e21) {\mtri{hun}PRRSV-1-1_Hungary_20012231_2012};
\draw[br] (617,834) -- (620,834) node[lf] (e22) {\mtri{hun}PRRSV-1-1_Hungary_20015641_2012};
\node[lf] (e23) at (609,840) {\mdot{hun}\mdot{hun}\mdot{hun}\mdot{hun}\mdot{hun}\mdot{hun} HUN 2003-2004 (n=6)};

% 1F
\draw[br] (489,868) -- (496,868) (496,853) -- (496,873) (496,873) -- (502,873) (502,859) -- (502,905)
  (502,880) -- (506,880) (506,865) -- (506,896) (506,880) -- (509,880) (509,871) -- (509,889)
  (506,896) -- (520,896) (502,905) -- (505,905) (505,902) -- (505,926) (505,926) -- (512,926)
  (512,917) -- (512,936) (512,926.5) -- (517,926.5) (517,923) -- (517,930);
\clps{520}{532}{896}{2.5}
\clps{512}{527}{936}{2.8}
\node[bs,anchor=east] (bF) at (488,867) {0.8};
\draw[br] (496,853) -- (499,853) node[lf] (f1) {AF378797_Amsberg_NA_DEU};
\draw[br] (502,859) -- (509,859) node[lf] (f2) {\mdot{cze}AF253535_V-546_CZE_1995};
\draw[br] (506,865) -- (513,865) node[lf] (f3) {DQ477805_0003791_USA_2006};
\draw[br] (509,871) -- (513,871) node[lf] (f4) {M96262 Lelystad_NLD_1991};
\draw[br] (509,877) -- (513,877) node[lf] (f5) {\mdot{cze}AF253532_V-502_CZE_1996};
\draw[br] (509,883) -- (513,883) node[lf] (f6) {\mdot{cze}AF253534_V-548_CZE_1998};
\draw[br] (509,889) -- (513,889) node[lf] (f7) {AY633973_B13_CHN_LN_1999};
\node[lf] (f8) at (533,896) {\mtri{hrv}\mtri{hrv}\mtri{hrv}\mtri{hrv}\mtri{hrv}\mtri{hrv}\mtri{hrv} HRV 2012 (n=7)};
\draw[br] (505,902) -- (522,902) node[lf] (f9) {JN651730_Cobbelsdorf_DEU_1991};
\draw[br] (505,909) -- (518,909) node[lf] (f10) {JX183123_SCP0311EU1_1_THA_2011};
\draw[br] (512,917) -- (517,917) node[lf] (f11) {FJ908074_02SB3_na_THA_2002};
\draw[br] (517,923) -- (525,923) node[lf] (f12) {L04493_Boxmeer_10_NLD_1992};
\draw[br] (517,930) -- (530,930) node[lf] (f13) {JX183125_SCP0311EU3_1_THA_2011};
\node[lf] (f14) at (528,936) {THA 2010 (n=7)};

% 1G
\draw[br] (489,988) -- (496,988) (496,970) -- (496,1013) (496,970) -- (503,970) (503,961) -- (503,979)
  (503,961) -- (518,961) (518,958) -- (518,964) (503,979) -- (510,979) (510,976) -- (510,982)
  (496,1013) -- (512,1013) (512,994) -- (512,1032) (512,994) -- (548,994) (548,988) -- (548,1000)
  (512,1032) -- (525,1032) (525,1021) -- (525,1042) (525,1021) -- (595,1021) (595,1018) -- (595,1024)
  (525,1042) -- (541,1042) (541,1036) -- (541,1048) (541,1036) -- (579,1036) (579,1030) -- (579,1042);
\clps{510}{540}{976}{2.5}
\clps{510}{537}{982}{2.5}
\clps{512}{665}{1006}{2.8}
\clps{512}{662}{1012}{2.8}
\clps{541}{611}{1048}{2.8}
\node[bs,anchor=east] (bG) at (488,986) {0.73};
\draw[br] (518,958) -- (545,958) node[lf] (g1) {JN651738_BH_95_10-12_DEU_2006};
\draw[br] (518,964) -- (537,964) node[lf] (g2) {JN651732_Stendal_V1004_DEU_1996};
\draw[br] (503,970) -- (533,970) node[lf] (g3) {AY035925_2.96_DEU_1993};
\node[lf] (g4) at (542,976) {ESP 2000-2002 (n=2)};
\node[lf] (g5) at (539,982) {ESP 2005 (n=2)};
\draw[br] (548,988) -- (555,988) node[lf] (g6) {\mtri{hun}PRRSV-1-1_Hungary_100004659_2013};
\draw[br] (548,994) -- (549,994) node[lf] (g7) {\mdot{svk}KC522645_16M_SVK_2007};
\draw[br] (548,1000) -- (572,1000) node[lf] (g8) {\mdot{svk}KC522643_13M_SVK_2007};
\node[lf] (g9) at (667,1006) {ESP 1992-2010 (n=4)};
\node[lf] (g10) at (664,1012) {ESP 2002-2010 (n=10)};
\draw[br] (595,1018) -- (600,1018) node[lf] (g11) {KF666910_CReSA-50_ESP_2007};
\draw[br] (595,1024) -- (619,1024) node[lf] (g12) {KF666920_CReSA-60_ESP_2009};
\draw[br] (579,1030) -- (655,1030) node[lf] (g13) {\mtri{pol}PRRSV-1-1_Poland_6346Wilc_2010};
\draw[br] (579,1036) -- (650,1036) node[lf] (g14) {\mtri{pol}PRRSV-1-1_Poland_RJ1546-1_2014};
\draw[br] (579,1042) -- (627,1042) node[lf] (g15) {\mtri{pol}PRRSV-1-1_Poland_RJ1834-20_2014};
\node[lf] (g16) at (613,1048) {DEU 2002-2004 (n=9)};
\end{tikzpicture}
\end{document}
